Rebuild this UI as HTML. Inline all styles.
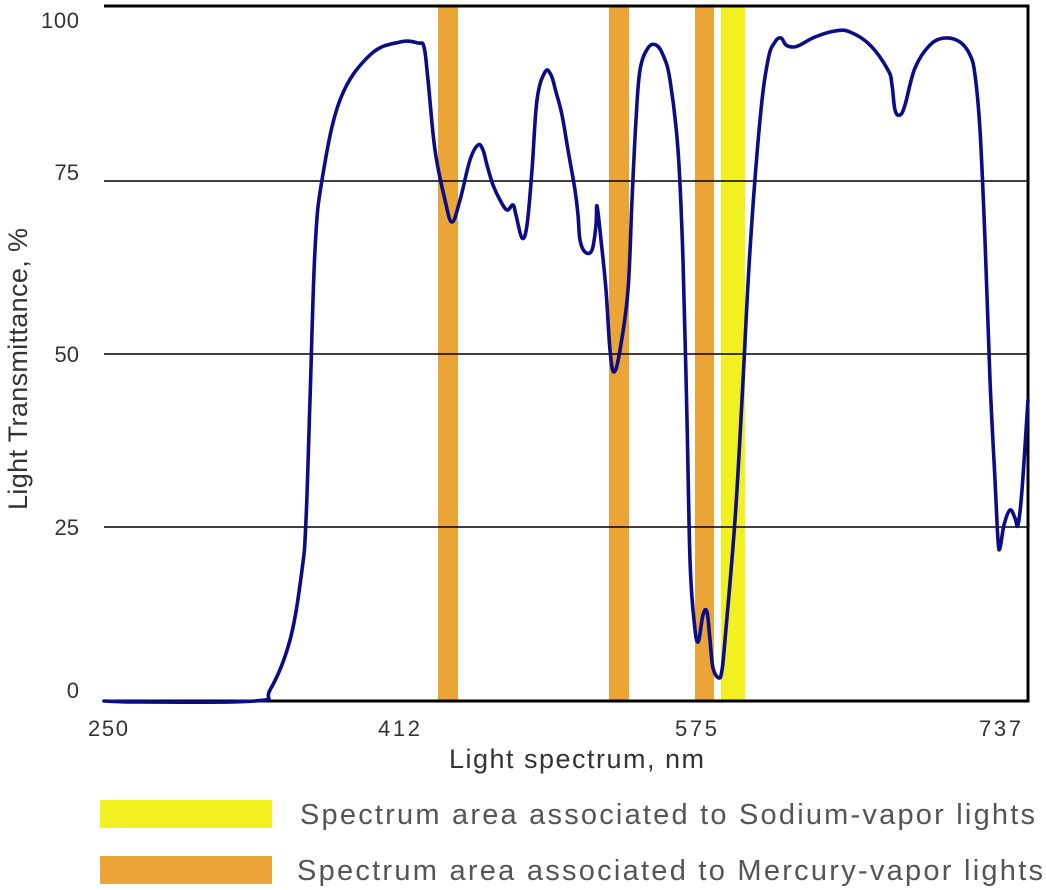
<!DOCTYPE html>
<html><head><style>
body{margin:0;background:#fff;}
svg{display:block;font-family:"Liberation Sans",sans-serif;}
</style></head><body>
<svg width="1046" height="890" viewBox="0 0 1046 890">
<rect width="1046" height="890" fill="#fff"/>
<rect x="438" y="7" width="20" height="694" fill="#eba536"/>
<rect x="609" y="7" width="20" height="694" fill="#eba536"/>
<rect x="695" y="7" width="19" height="694" fill="#eba536"/>
<rect x="721" y="7" width="24" height="694" fill="#f2f020"/>
<g stroke="#000" stroke-width="1.6">
<line x1="104" y1="181" x2="1028" y2="181"/>
<line x1="104" y1="354" x2="1028" y2="354"/>
<line x1="104" y1="527" x2="1028" y2="527"/>
</g>
<polyline fill="none" stroke="#000" stroke-width="3" points="104,6 1028,6 1028,701 104,701"/>
<path id="curve" fill="none" stroke="#0c0c86" stroke-width="3.6" stroke-linejoin="round" stroke-linecap="round" d=""/>
<g fill="#333" font-size="22" text-anchor="end">
<text x="79" y="28" textLength="38">100</text>
<text x="79" y="180">75</text>
<text x="79" y="362">50</text>
<text x="79" y="535">25</text>
<text x="79" y="698">0</text>
</g>
<g fill="#333" font-size="22" text-anchor="middle">
<text x="108" y="736" textLength="40">250</text>
<text x="399" y="736" textLength="42">412</text>
<text x="696" y="736" textLength="42">575</text>
<text x="1000" y="736" textLength="42">737</text>
</g>
<text x="449" y="768" font-size="27" fill="#333" textLength="255">Light spectrum, nm</text>
<text transform="translate(27,510) rotate(-90)" font-size="27" fill="#333" textLength="282">Light Transmittance, %</text>
<rect x="100" y="800" width="172" height="28" fill="#f2f020"/>
<rect x="100" y="856" width="172" height="28" fill="#eba536"/>
<text x="300" y="824" font-size="29" fill="#555" textLength="735">Spectrum area associated to Sodium-vapor lights</text>
<text x="297" y="880" font-size="29" fill="#555" textLength="746">Spectrum area associated to Mercury-vapor lights</text>
</svg>
<script>
var p=[[104,701],[140,702],[255,701],[270,690],[290,640],[302,570],[306,520],[310,400],[315,250],[322,180],[340,100],[370,55],[400,42],[418,43],[424,47],[428,80],[435,150],[445,200],[452,222],[460,200],[470,160],[478,145],[483,150],[487,165],[493,185],[500,200],[507,210],[513,205],[516,215],[522,238],[527,225],[532,170],[537,100],[545,72],[551,75],[556,92],[562,115],[568,150],[575,190],[578,215],[580,240],[585,252],[592,250],[596,225],[597,206],[601,240],[606,290],[610,350],[614,372],[620,350],[628,290],[632,200],[636,120],[640,70],[648,48],[656,45],[663,55],[670,80],[678,150],[683,260],[687,420],[690,560],[694,620],[698,642],[703,615],[707,612],[710,640],[713,668],[719,678],[722,670],[725,640],[735,520],[742,400],[750,250],[760,120],[768,60],[775,42],[781,38],[786,45],[793,47],[800,45],[815,37],[835,31],[850,32],[870,45],[888,70],[892,85],[895,110],[900,115],[905,105],[915,68],[930,45],[945,38],[960,42],[970,55],[975,75],[980,130],[985,240],[990,380],[995,480],[998,540],[1000,548],[1004,525],[1010,510],[1015,518],[1018,525],[1022,490],[1028,400]];
var d="M"+p[0][0]+","+p[0][1];
for(var i=0;i<p.length-1;i++){var a=p[i>0?i-1:i],b=p[i],c=p[i+1],e=p[i+2<p.length?i+2:i+1];var t=0.18;
d+=" C"+(b[0]+(c[0]-a[0])*t)+","+(b[1]+(c[1]-a[1])*t)+" "+(c[0]-(e[0]-b[0])*t)+","+(c[1]-(e[1]-b[1])*t)+" "+c[0]+","+c[1];}
document.getElementById("curve").setAttribute("d",d);
</script>
</body></html>
